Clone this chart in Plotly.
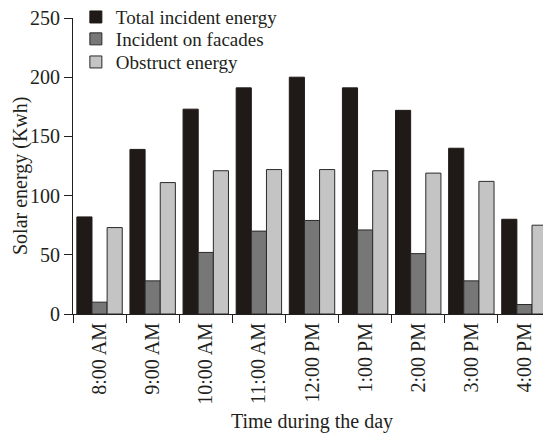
import plotly.graph_objects as go

categories = ["8:00 AM", "9:00 AM", "10:00 AM", "11:00 AM", "12:00 PM",
              "1:00 PM", "2:00 PM", "3:00 PM", "4:00 PM"]
total_incident = [82, 139, 173, 191, 200, 191, 172, 140, 80]
incident_facades = [10, 28, 52, 70, 79, 71, 51, 28, 8]
obstruct_energy = [73, 111, 121, 122, 122, 121, 119, 112, 75]
y_ticks = [0, 50, 100, 150, 200, 250]

FONT = "Liberation Serif, Times New Roman, serif"
EDGE = "#2a2a2a"
TXT = "#231f20"

fig = go.Figure()
fig.add_trace(go.Bar(x=categories, y=total_incident, name="Total incident energy",
                     legend="legend",
                     marker=dict(color="#1f1a17", line=dict(color="#1f1a17", width=1))))
fig.add_trace(go.Bar(x=categories, y=incident_facades, name="Incident on facades",
                     legend="legend2",
                     marker=dict(color="#777777", line=dict(color=EDGE, width=1))))
fig.add_trace(go.Bar(x=categories, y=obstruct_energy, name="Obstruct energy",
                     legend="legend3",
                     marker=dict(color="#c4c4c4", line=dict(color=EDGE, width=1))))

leg = dict(x=0.006, xanchor="left", yanchor="middle", bgcolor="rgba(0,0,0,0)",
           font=dict(size=19, family=FONT, color=TXT), borderwidth=0)

fig.update_layout(
    width=543, height=426,
    margin=dict(l=65, r=0, t=10, b=120, autoexpand=False),
    paper_bgcolor="white", plot_bgcolor="white",
    barmode="group", bargap=0.145, bargroupgap=0,
    font=dict(family=FONT, size=20, color=TXT),
    showlegend=True,
    legend=dict(leg, y=1.003),
    legend2=dict(leg, y=0.929),
    legend3=dict(leg, y=0.851),
    xaxis=dict(
        type="category", tickangle=-90, tickson="boundaries",
        ticks="outside", ticklen=8, tickcolor=TXT,
        showline=True, linecolor=TXT, linewidth=1,
        showgrid=False, tickfont=dict(size=20),
        title=dict(text="Time during the day", font=dict(size=20), standoff=10),
    ),
    yaxis=dict(
        range=[0, 250], tickvals=y_ticks, ticks="outside", ticklen=8,
        tickcolor=TXT, showline=True, linecolor=TXT, linewidth=1,
        showgrid=False, zeroline=False, tickfont=dict(size=20),
        ticklabeloverflow="allow",
    ),
    annotations=[dict(
        text="Solar energy (Kwh)", textangle=-90, showarrow=False,
        xref="paper", yref="paper", x=-0.111, y=0.466,
        xanchor="center", yanchor="middle",
        font=dict(size=20, family=FONT, color=TXT),
    )],
)

fig.write_html("out.html")
